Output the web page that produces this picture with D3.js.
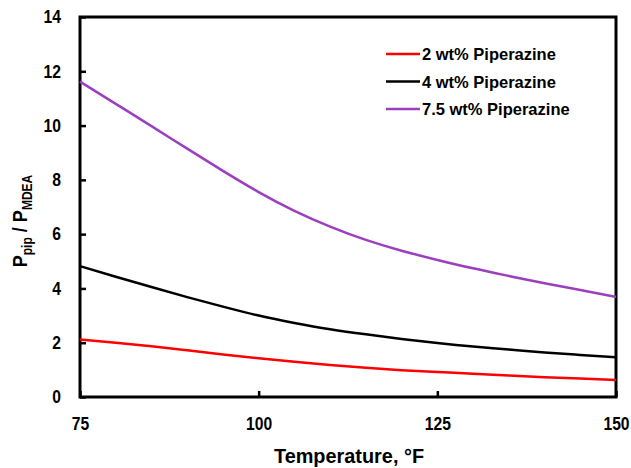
<!DOCTYPE html>
<html>
<head>
<meta charset="utf-8">
<script src="https://cdn.jsdelivr.net/npm/d3@7"></script>
<style>
  body { margin: 0; background: #fff; }
  text { font-family: "Liberation Sans", Arial, sans-serif; font-weight: bold; }
</style>
</head>
<body>
<div class="svg-content"></div>
<script>
// temperatures, °F
var temps = [75, 80, 85, 90, 95, 100, 105, 110, 115, 120, 125, 130, 135, 140, 145, 150];
var pip2 = [2.12, 2.0, 1.87, 1.72, 1.57, 1.43, 1.3, 1.18, 1.08, 0.99, 0.92, 0.86, 0.79, 0.73, 0.68, 0.63];
var pip4 = [4.82, 4.43, 4.05, 3.68, 3.33, 3.0, 2.73, 2.5, 2.31, 2.14, 1.99, 1.86, 1.75, 1.64, 1.55, 1.46];
var pip75 = [11.62, 10.8, 9.98, 9.15, 8.33, 7.55, 6.86, 6.28, 5.79, 5.39, 5.05, 4.74, 4.46, 4.19, 3.94, 3.69];
var seriesNames = ["2 wt% Piperazine", "4 wt% Piperazine", "7.5 wt% Piperazine"];
var seriesColors = ["#ff0000", "#000000", "#9b3fbf"];
var xTicks = [75, 100, 125, 150];
var yTicks = [0, 2, 4, 6, 8, 10, 12, 14];

var width = 631, height = 468;
var plotL = 80, plotR = 616, plotT = 17, plotB = 397;
var squeeze = 0.87; // the reference's bold tick type is a little narrow

var svg = d3.select(".svg-content").append("svg")
  .attr("width", width).attr("height", height);

var x = d3.scaleLinear().domain([75, 150]).range([plotL, plotR]);
var y = d3.scaleLinear().domain([0, 14]).range([plotB, plotT]);

// axes, ticks inside
var xAxis = svg.append("g").attr("transform", "translate(0," + plotB + ")")
  .call(d3.axisBottom(x).tickValues(xTicks).tickSize(-6).tickPadding(20));
var yAxis = svg.append("g").attr("transform", "translate(" + plotL + ",0)")
  .call(d3.axisLeft(y).tickValues(yTicks).tickSize(-6).tickPadding(19));

[xAxis, yAxis].forEach(function(a) {
  a.select(".domain").remove();
  a.selectAll("line").attr("stroke", "#000").attr("stroke-width", 2.5);
  a.selectAll("text").attr("font-size", "18px").attr("fill", "#000")
    .style("font-family", "'Liberation Sans', Arial, sans-serif").style("font-weight", "bold");
});
xAxis.selectAll("text").attr("transform", "scale(" + squeeze + ",1)");
yAxis.selectAll("text").attr("x", 0)
  .attr("transform", "translate(-19,0) scale(" + squeeze + ",1)");

// plot frame
svg.append("rect")
  .attr("x", plotL).attr("y", plotT)
  .attr("width", plotR - plotL).attr("height", plotB - plotT)
  .attr("fill", "none").attr("stroke", "#000").attr("stroke-width", 3);

var line = d3.line()
  .x(function(d) { return x(d[0]); })
  .y(function(d) { return y(d[1]); })
  .curve(d3.curveNatural);

[pip2, pip4, pip75].forEach(function(vals, i) {
  svg.append("path")
    .datum(temps.map(function(t, j) { return [t, vals[j]]; }))
    .attr("d", line)
    .attr("fill", "none")
    .attr("stroke", seriesColors[i])
    .attr("stroke-width", 2.5);
});

// legend
var legend = svg.append("g");
seriesNames.forEach(function(name, i) {
  var ly = 54 + i * 27.5;
  legend.append("line")
    .attr("x1", 386).attr("x2", 420).attr("y1", ly).attr("y2", ly)
    .attr("stroke", seriesColors[i]).attr("stroke-width", 2.5);
  legend.append("text")
    .attr("x", 422).attr("y", ly + 6)
    .attr("font-size", "16.5px")
    .text(name);
});

// axis titles
svg.append("text")
  .attr("transform", "translate(" + ((plotL + plotR) / 2 + 1) + ",463) scale(0.97,1)")
  .attr("text-anchor", "middle")
  .attr("font-size", "20.5px")
  .text("Temperature, °F");

var yt = svg.append("text")
  .attr("transform", "translate(27,221) rotate(-90) scale(0.86,1)")
  .attr("text-anchor", "middle")
  .attr("font-size", "21px");
yt.append("tspan").text("P");
yt.append("tspan").attr("font-size", "14px").attr("dy", 5).text("pip");
yt.append("tspan").attr("dy", -5).text(" / P");
yt.append("tspan").attr("font-size", "14px").attr("dy", 5).text("MDEA");
</script>
</body>
</html>
